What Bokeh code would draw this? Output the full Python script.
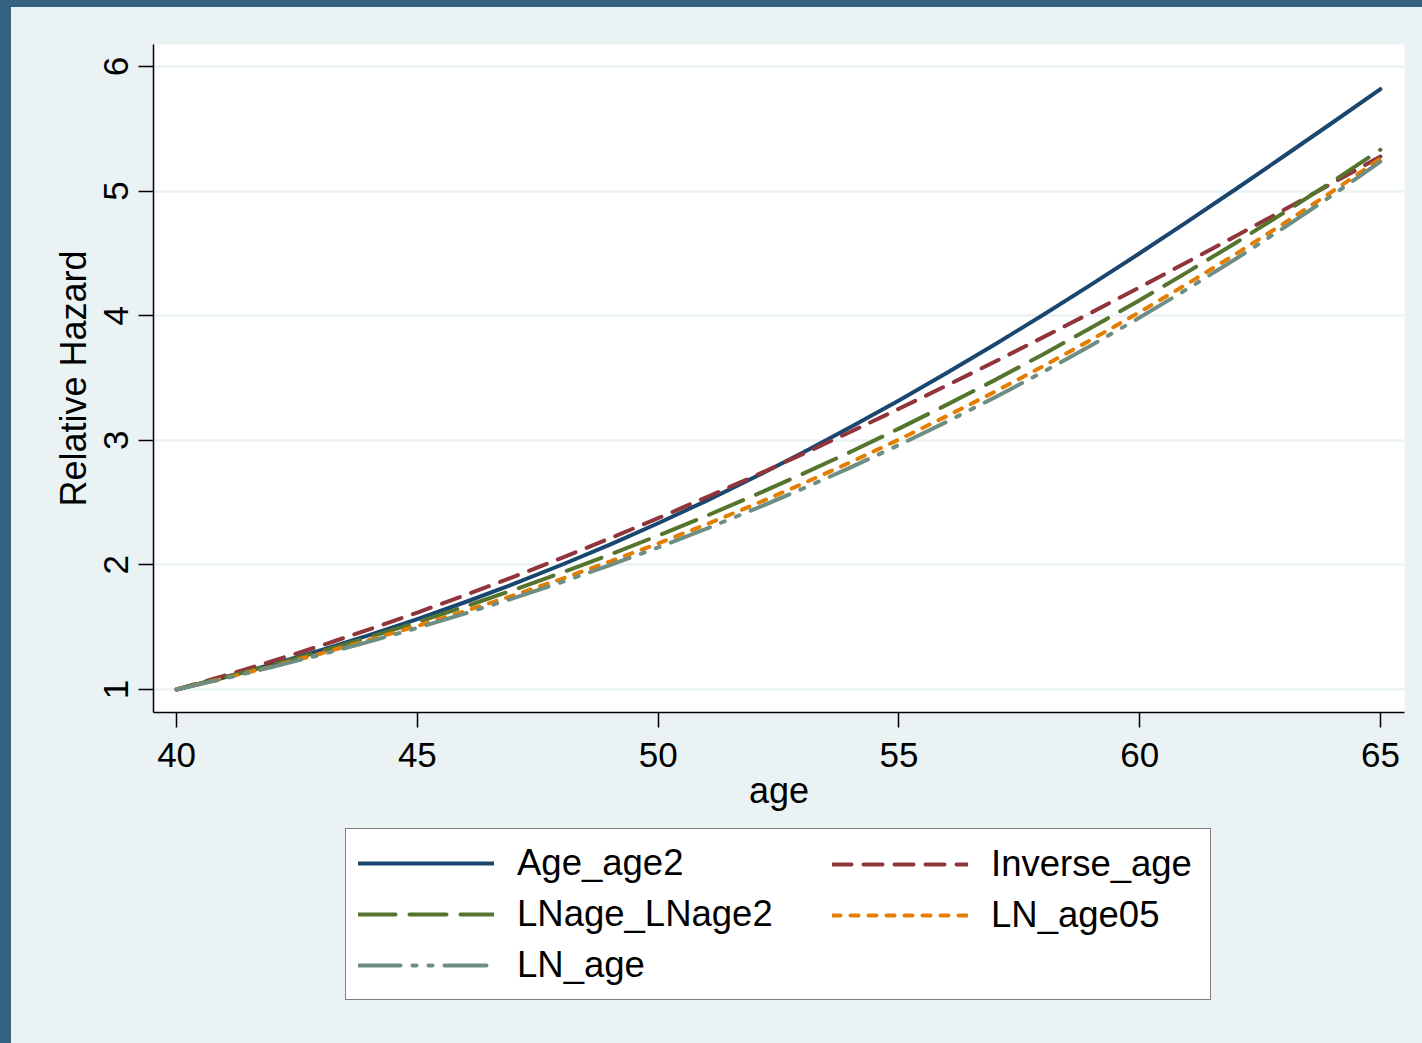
from bokeh.plotting import figure
from bokeh.models import (Range1d, FixedTicker, Legend, LegendItem, Column)
from bokeh.embed import file_html
from bokeh.resources import INLINE

# ---------------- data ----------------
ages = [40, 41, 42, 43, 44, 45, 46, 47, 48, 49, 50, 51, 52,
        53, 54, 55, 56, 57, 58, 59, 60, 61, 62, 63, 64, 65]
age_age2 = [1.000, 1.098, 1.203, 1.316, 1.436, 1.565, 1.702, 1.847, 2.001, 2.163,
            2.334, 2.514, 2.703, 2.900, 3.106, 3.320, 3.542, 3.771, 4.008, 4.252,
            4.501, 4.757, 5.017, 5.282, 5.549, 5.819]
inverse_age = [1.000, 1.111, 1.229, 1.352, 1.482, 1.617, 1.758, 1.904, 2.056, 2.213,
               2.375, 2.542, 2.713, 2.889, 3.069, 3.253, 3.441, 3.632, 3.828, 4.026,
               4.228, 4.433, 4.640, 4.850, 5.063, 5.278]
lnage_lnage2 = [1.000, 1.096, 1.198, 1.306, 1.420, 1.540, 1.666, 1.799, 1.938, 2.083,
                2.235, 2.393, 2.558, 2.730, 2.908, 3.094, 3.286, 3.485, 3.691, 3.905,
                4.125, 4.352, 4.586, 4.828, 5.076, 5.332]
ln_age05 = [1.000, 1.091, 1.187, 1.289, 1.397, 1.510, 1.630, 1.756, 1.888, 2.027,
            2.172, 2.325, 2.484, 2.651, 2.825, 3.006, 3.195, 3.391, 3.596, 3.808,
            4.029, 4.258, 4.496, 4.742, 4.997, 5.261]
ln_age = [1.000, 1.088, 1.181, 1.280, 1.384, 1.494, 1.611, 1.733, 1.862, 1.998,
          2.140, 2.290, 2.447, 2.611, 2.783, 2.962, 3.150, 3.346, 3.550, 3.763,
          3.985, 4.217, 4.457, 4.707, 4.967, 5.236]

series_names = ["Age_age2", "Inverse_age", "LNage_LNage2", "LN_age05", "LN_age"]
x_ticks = [40, 45, 50, 55, 60, 65]
y_ticks = [1, 2, 3, 4, 5, 6]

# ---------------- style ----------------
FONT = "Liberation Sans"
BG = "#EAF2F3"
FRAME_BG = "#33617F"
colors = ["#1A476F", "#90353B", "#55752F", "#E37E00", "#6E8E84"]
dashes = ["solid", "19 12", "37 14", "8 10", "42 12 4 12 4 12"]
LW = 4

all_series = [age_age2, inverse_age, lnage_lnage2, ln_age05, ln_age]

# ---------------- main chart ----------------
p = figure(width=1411, height=813, output_backend="svg", toolbar_location=None,
           x_range=Range1d(39.52, 65.5), y_range=Range1d(0.815, 6.177),
           min_border_left=142, min_border_right=18, min_border_top=37,
           min_border_bottom=108)
p.margin = (7, 0, 0, 11)
p.background_fill_color = "white"
p.border_fill_color = BG
p.outline_line_color = None

for ys, c, d in zip(all_series, colors, dashes):
    p.line(ages, ys, line_color=c, line_width=LW, line_dash=d,
           line_cap="round", line_join="round")

for ax in (p.xaxis[0], p.yaxis[0]):
    ax.axis_line_color = "black"
    ax.axis_line_width = 1.5
    ax.major_tick_line_color = "black"
    ax.major_tick_line_width = 1.5
    ax.major_tick_out = 15
    ax.major_tick_in = 0
    ax.minor_tick_line_color = None
    ax.major_label_text_font = FONT
    ax.major_label_text_font_size = "35px"
    ax.major_label_text_color = "black"
    ax.axis_label_text_font = FONT
    ax.axis_label_text_font_size = "36px"
    ax.axis_label_text_font_style = "normal"
    ax.axis_label_text_color = "black"

p.xaxis.ticker = FixedTicker(ticks=x_ticks)
p.yaxis.ticker = FixedTicker(ticks=y_ticks)
p.xaxis.axis_label = "age"
p.yaxis.axis_label = "Relative Hazard"
p.yaxis.major_label_orientation = "vertical"
p.xaxis.major_label_standoff = 15
p.yaxis.major_label_standoff = 10
p.xaxis.axis_label_standoff = 0
p.yaxis.axis_label_standoff = 8

p.xgrid.visible = False
p.ygrid.grid_line_color = BG
p.ygrid.grid_line_width = 2.5

# ---------------- legend strip (a second figure holding the key) ----------------
# Its ranges lie away from the data, so the lines only serve as legend samples.
q = figure(width=1411, height=223, output_backend="svg", toolbar_location=None,
           x_range=Range1d(0, 1), y_range=Range1d(0, 1),
           x_axis_location=None, y_axis_location=None,
           min_border_left=142, min_border_right=18, min_border_top=0,
           min_border_bottom=0)
q.margin = (0, 0, 0, 11)
q.background_fill_color = BG
q.border_fill_color = BG
q.outline_line_color = None
q.xgrid.visible = False
q.ygrid.visible = False

key = []
for ys, c, d in zip(all_series, colors, dashes):
    key.append(q.line(ages, ys, line_color=c, line_width=LW, line_dash=d,
                      line_cap="round", line_join="round"))

GH, SP, PAD, GW, LS = 44, 7, 12, 136, 23
BOTTOM = 43
leg1 = Legend(items=[LegendItem(label=series_names[0], renderers=[key[0]]),
                     LegendItem(label=series_names[2], renderers=[key[2]]),
                     LegendItem(label=series_names[4], renderers=[key[4]])],
              location=(192, BOTTOM), orientation="vertical")
leg2 = Legend(items=[LegendItem(label=series_names[1], renderers=[key[1]]),
                     LegendItem(label=series_names[3], renderers=[key[3]])],
              location=(667, BOTTOM + GH + SP), orientation="vertical")
for lg in (leg1, leg2):
    lg.glyph_width = GW
    lg.glyph_height = GH
    lg.spacing = SP
    lg.padding = PAD
    lg.margin = 0
    lg.label_standoff = LS
    lg.label_text_font = FONT
    lg.label_text_font_size = "36.5px"
    lg.label_text_color = "black"
    lg.label_height = GH
leg1.label_width = 864 - 2 * PAD - GW - LS
leg1.background_fill_color = "white"
leg1.background_fill_alpha = 1.0
leg1.border_line_color = "black"
leg1.border_line_width = 1.5
leg2.background_fill_alpha = 0.0
leg2.border_line_alpha = 0.0
q.add_layout(leg1, "center")
q.add_layout(leg2, "center")

page_bg = ("linear-gradient(to right, %s 11px, transparent 11px), "
           "linear-gradient(to bottom, %s 7px, %s 7px)" % (FRAME_BG, FRAME_BG, BG))
layout = Column(children=[p, q], spacing=0, styles={"background": page_bg})

open("out.html", "w").write(file_html(layout, INLINE))
